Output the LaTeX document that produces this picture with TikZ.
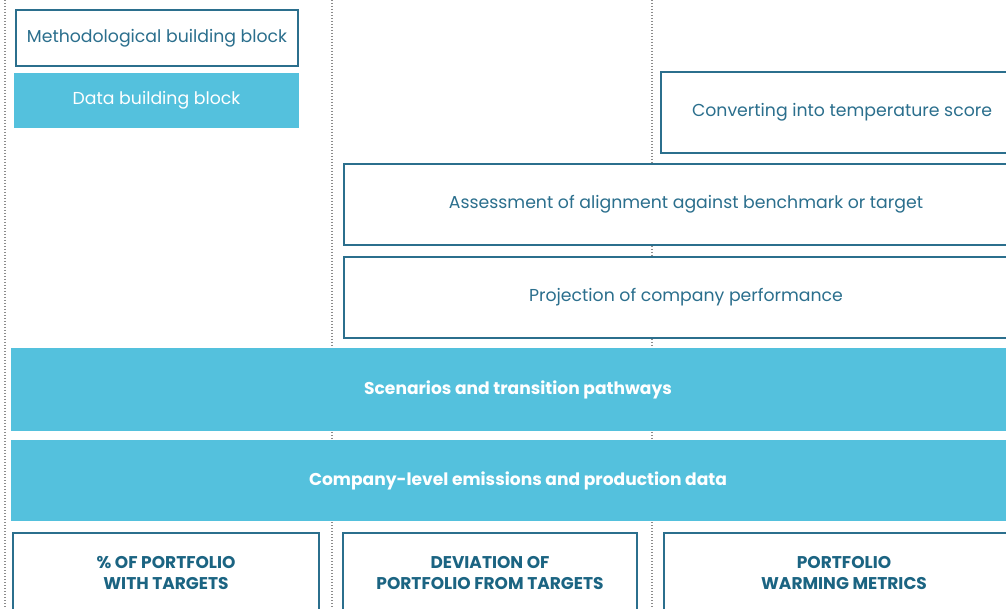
\documentclass[tikz,border=0pt]{standalone}
\usepackage{fontspec}
\setmainfont{Poppins}
\usepackage{xcolor}
\usepackage{tikz}
\definecolor{teal}{HTML}{2B6F8D}
\definecolor{darkteal}{HTML}{1B6482}
\definecolor{skyblue}{HTML}{54C1DD}
\definecolor{dotgray}{HTML}{8C8C8C}
\tikzstyle{method} = [rectangle,
draw=teal,
line width=1.6pt,
fill=white,
text=teal,
font=\fontsize{17.3}{21}\selectfont,
text centered]
\tikzstyle{data} = [rectangle,
fill=skyblue,
text=white,
font=\fontsize{17.3}{21}\selectfont,
text centered]
\tikzstyle{band} = [data,
font=\fontsize{17.1}{21}\selectfont\bfseries]
\tikzstyle{metric} = [method,
text=darkteal,
align=center,
font=\fontsize{17}{21}\selectfont\bfseries]
\tikzstyle{column} = [dotgray, line width=1.2pt, dash pattern=on 1.2pt off 1.8pt]

\begin{document}
\begin{tikzpicture}[x=1pt, y=-1pt]
\useasboundingbox (0,0) rectangle (1006,609);
\clip (0,0) rectangle (1006,609);
% column separators
\coordinate (c1top) at (5,0);
\coordinate (c1bot) at (5,609);
\coordinate (c2top) at (332,0);
\coordinate (c2bot) at (332,609);
\coordinate (c3top) at (652,0);
\coordinate (c3bot) at (652,609);
\draw [column] (c1top) -- (c1bot);
\draw [column] (c2top) -- (c2bot);
\draw [column] (c3top) -- (c3bot);

% legend
\node (meth) [method, minimum width=282pt, minimum height=56pt] at (157,38) {Methodological building block};
\node (data) [data, minimum width=285pt, minimum height=55pt] at (156.5,100.5) {Data building block};

% methodological steps
\node (conv) [method, minimum width=362pt, minimum height=81pt] at (842,112.5) {Converting into temperature score};
\node (assess) [method, minimum width=684pt, minimum height=81pt] at (686,204.5) {Assessment of alignment against benchmark or target};
\node (proj) [method, minimum width=684pt, minimum height=81pt] at (686,297.5) {Projection of company performance};

% data layers
\node (scen) [band, minimum width=1014pt, minimum height=83pt] at (518,389.5) {Scenarios and transition pathways};
\node (comp) [band, minimum width=1014pt, minimum height=81pt] at (518,480.5) {Company-level emissions and production data};

% output metrics
\node (pct) [metric, minimum width=306pt, minimum height=80pt] at (166,573) {\% OF PORTFOLIO\\WITH TARGETS};
\node (dev) [metric, minimum width=294pt, minimum height=80pt] at (490,573) {DEVIATION OF\\PORTFOLIO FROM TARGETS};
\node (warm) [metric, minimum width=360pt, minimum height=80pt] at (844,573) {PORTFOLIO\\WARMING METRICS};
\end{tikzpicture}
\end{document}
